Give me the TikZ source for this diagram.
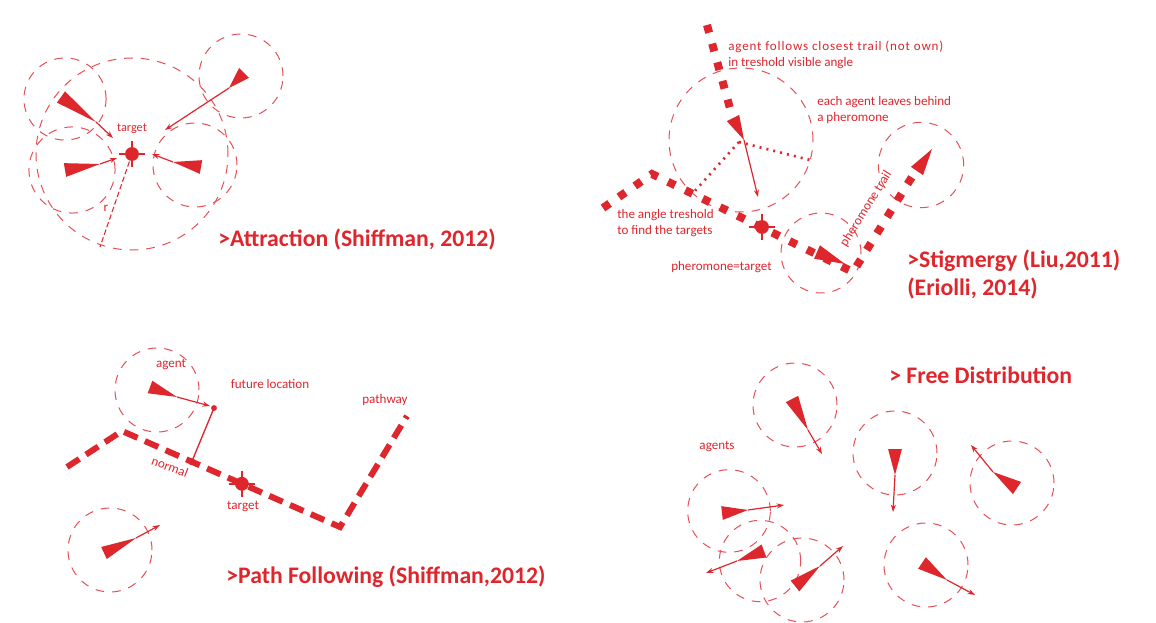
\documentclass[tikz,border=0pt]{standalone}
\usepackage{fontspec}
\setmainfont{Carlito}
\usetikzlibrary{calc,arrows.meta}
\definecolor{dred}{RGB}{222,38,45}
\newcommand{\agentarrow}[4]{% base, apex, end, half width
  \fill[dred] ($(#1)!#4!90:(#2)$) -- (#2) -- ($(#1)!#4!-90:(#2)$) -- cycle;
  \draw[arr] (#2) -- (#3);}
\newcommand{\agenttri}[3]{% base, apex, half width
  \fill[dred] ($(#1)!#3!90:(#2)$) -- (#2) -- ($(#1)!#3!-90:(#2)$) -- cycle;}
\newcommand{\targetsym}[1]{%
  \fill[dred] (#1) circle (5.2pt);
  \draw[dred, line width=1.6pt] ($(#1)+(-13,0)$) -- ($(#1)+(13,0)$)
        ($(#1)+(0,-13)$) -- ($(#1)+(0,13)$);}
\begin{document}
\begin{tikzpicture}[x=0.75pt,y=-0.75pt,
  circ/.style={draw=dred!80, line width=0.75pt, dash pattern=on 6.5pt off 6pt},
  arr/.style={dred, line width=0.9pt, -{Stealth[length=5.5pt,width=3.8pt]}},
  lbl/.style={text=dred, font=\fontsize{9.8}{12}\selectfont, inner sep=0pt},
  ttl/.style={text=dred, font=\fontsize{17.8}{21}\selectfont\bfseries, inner sep=0pt, anchor=west},
  trail/.style={dred, line width=6pt, dash pattern=on 6pt off 8.5pt},
  fine/.style={dred, line width=2pt, dash pattern=on 1.5pt off 3.8pt},
  pathw/.style={dred, line width=4.5pt, dash pattern=on 11pt off 6pt}]
\useasboundingbox (0,0) rectangle (1156,623);
\fill[white] (0,0) rectangle (1156,623);

%% ---------------- Attraction ----------------
\coordinate (t1) at (132,154);
\draw[circ] (t1) circle (72pt);
\draw[circ] (65,99) circle (30.8pt);
\draw[circ] (72,170) circle (32.3pt);
\draw[circ] (195,165) circle (31.5pt);
\draw[circ] (241,76) circle (31.5pt);
\coordinate (rend) at (100,247);
\draw[dred, line width=0.8pt, dash pattern=on 4pt off 2pt] (t1) -- (rend);
\targetsym{t1}
\agentarrow{61,97}{96,122}{113,138}{5.2pt}
\agentarrow{65,170}{100,164}{117,158}{5.2pt}
\agentarrow{201,167}{173,162}{152,154}{5.2pt}
\agentarrow{244,73}{229,88}{165,130}{5.2pt}
\node[lbl, font=\fontsize{9.2}{12}\selectfont] (ltarget1) at (132,129) {target};
\node[lbl] (lr) at (106,208) {r};
\node[ttl] (tattr) at (218,239) {>Attraction (Shiffman, 2012)};

%% ---------------- Stigmergy ----------------
\coordinate (sA0) at (707,25);
\coordinate (sA1) at (731,112);
\coordinate (sB0) at (603,208);
\coordinate (sB1) at (652,174);
\coordinate (sB2) at (853,272);
\coordinate (sB3) at (915,172);
\coordinate (t2) at (762,227);
\coordinate (sag) at (739,142);
\draw[circ] (741,140) circle (54pt);
\draw[circ] (821,253) circle (30pt);
\draw[circ] (921,165) circle (32pt);
\draw[trail] (sA0) -- (sA1);
\draw[trail] (sB0) -- (sB1) -- (sB2) -- (sB3);
\draw[fine] (sag) -- (810,160);
\draw[fine] (sag) -- (693,193);
\agentarrow{733,118}{744,140}{758,197}{5.2pt}
\agenttri{817,252}{845,264}{5.5pt}
\agenttri{917,171}{932,149}{5.5pt}
\targetsym{t2}
\node[lbl, anchor=west, font=\fontsize{9.8}{12}\selectfont\addfontfeature{LetterSpace=6.5}] (lfollow) at (728,47) {agent follows closest trail (not own)};
\node[lbl, anchor=west] (lfollow2) at (728,63) {in treshold visible angle};
\node[lbl, anchor=west, align=left] (lleaves) at (817,110) {each agent leaves behind\\a pheromone};
\node[lbl, anchor=west, align=left] (langle) at (617,223) {the angle treshold\\to find the targets};
\node[lbl, anchor=west] (lphtarget) at (671,267) {pheromone=target};
\node[lbl, rotate=58] (ltrail) at (866,209) {pheromone trail};
\node[ttl] (tstig1) at (907,261) {>Stigmergy (Liu,2011)};
\node[ttl] (tstig2) at (907,288) {(Eriolli, 2014)};

%% ---------------- Path following ----------------
\coordinate (p0) at (67,467);
\coordinate (p1) at (122,431);
\coordinate (p2) at (340,527);
\coordinate (p3) at (407,416);
\coordinate (fut) at (214,408);
\coordinate (foot) at ($(p1)!0.32!(p2)$);
\coordinate (t3) at ($(p1)!0.55!(p2)$);
\draw[circ] (157,390) circle (31.5pt);
\draw[circ] (110,550) circle (31.5pt);
\draw[pathw] (p0) -- (p1) -- (p2) -- (p3);
\targetsym{t3}
\agentarrow{150,387}{177,397}{210,406}{5pt}
\agentarrow{104,553}{136,538}{160,525}{5pt}
\draw[dred, line width=1pt] (fut) -- (foot);
\fill[dred] (fut) circle (2.2pt);
\fill[dred] (foot) circle (2.6pt);
\node[lbl] (lagent) at (171,364) {agent};
\node[lbl] (lfuture) at (270,384) {future location};
\node[lbl, rotate=-21] (lnormal) at (170,467) {normal};
\node[lbl] (ltarget3) at (243,506) {target};
\node[lbl] (lpathway) at (385,400) {pathway};
\node[ttl] (tpath) at (226,577) {>Path Following (Shiffman,2012)};

%% ---------------- Free distribution ----------------
\draw[circ] (795,405) circle (31.5pt);
\draw[circ] (895,453) circle (31.5pt);
\draw[circ] (1012,483) circle (31.5pt);
\draw[circ] (729,511) circle (31pt);
\draw[circ] (760,561) circle (30.5pt);
\draw[circ] (802,580) circle (31.5pt);
\draw[circ] (926,565) circle (31.5pt);
\agentarrow{792,399}{808,430}{822,454}{5.2pt}
\agentarrow{895,449}{895,475}{893,512}{5.2pt}
\agentarrow{1017,488}{993,472}{971,445}{5.5pt}
\agentarrow{722,513}{748,510}{784,505}{5.2pt}
\agentarrow{764,551}{737,561}{706,573}{5.2pt}
\agentarrow{795,586}{820,566}{843,546}{5.2pt}
\agentarrow{922,563}{947,580}{975,595}{5.2pt}
\node[lbl] (lagents) at (717,446) {agents};
\node[ttl] (tfree) at (889,375) {> Free Distribution};
\end{tikzpicture}
\end{document}
